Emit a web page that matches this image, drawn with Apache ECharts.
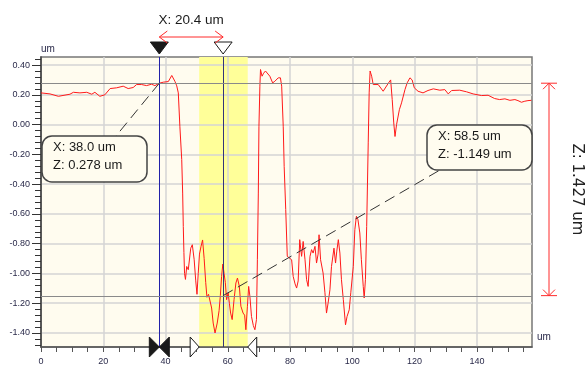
<!DOCTYPE html>
<html>
<head>
<meta charset="utf-8">
<style>
  html, body { margin: 0; padding: 0; background: #fff; }
  #chart { width: 585px; height: 370px; }
</style>
<script src="https://cdn.jsdelivr.net/npm/echarts@6/dist/echarts.min.js"></script>
</head>
<body>
<div id="chart"></div>
<script>
// profile (x in um, z in um)
const profileX = [
  0, 2.9, 5.6, 9.3, 10.4, 12.5, 14.7, 16.3, 17.3, 18.9, 20.5, 22.2, 24.3, 26.4, 28.0, 29.6,
  30.7, 32.3, 33.9, 35.5, 36.6, 38.0, 39.3, 40.9, 42.0, 43.0, 43.6, 44.1, 44.6, 45.2, 45.5,
  45.7, 45.9, 46.1, 46.4, 46.8, 47.3, 48.1, 48.6, 49.2, 49.7, 50.1, 50.5, 50.9, 51.4, 51.9,
  52.4, 52.9, 53.3, 53.8, 54.3, 54.8, 55.3, 55.9, 56.6, 57.2, 57.6, 58.0, 58.4, 58.8, 59.2,
  59.6, 60.1, 60.5, 60.9, 61.4, 62.0, 62.6, 63.1, 63.7, 64.2, 64.9, 65.4, 65.8, 66.3, 66.7,
  67.1, 67.6, 68.2, 68.7, 69.2, 69.5, 69.8, 70.0, 70.3, 70.5, 71.0, 71.5, 72.1, 72.6, 73.5,
  74.4, 75.1, 76.2, 76.9, 77.3, 77.8, 78.1, 78.6, 79.1, 79.7, 80.5, 81.0, 81.6, 82.1, 82.6,
  83.1, 83.7, 84.2, 84.8, 85.3, 85.8, 86.4, 86.9, 87.4, 88.0, 88.5, 89.0, 89.3, 89.8, 90.6,
  91.2, 91.7, 92.2, 92.8, 93.3, 94.1, 94.6, 95.0, 95.5, 96.0, 96.5, 97.1, 97.8, 98.3, 99.0,
  99.5, 100.3, 100.8, 101.3, 101.8, 102.4, 102.9, 103.5, 103.8, 104.2, 104.6, 105.1, 105.4,
  105.7, 106.2, 106.7, 108.3, 109.9, 111.5, 112.3, 112.8, 113.3, 113.7, 114.2, 115.1, 115.8,
  116.9, 117.6, 118.5, 119.2, 119.9, 121.1, 122.7, 124.3, 126.0, 128.1, 129.7, 130.8, 131.9,
  134.5, 136.7, 138.8, 141.5, 143.6, 144.1, 145.7, 147.3, 149.0, 150.6, 152.2, 153.2, 154.3,
  155.4, 156.4, 157.5
];
const profileZ = [
  0.213, 0.206, 0.19, 0.204, 0.217, 0.213, 0.217, 0.204, 0.217, 0.19, 0.2, 0.242, 0.247, 0.258, 0.242, 0.249,
  0.269, 0.269, 0.262, 0.271, 0.262, 0.278, 0.285, 0.289, 0.33, 0.291, 0.26, 0.213, -0.011, -0.235, -0.46,
  -0.684, -0.86, -1.0, -1.04, -0.953, -0.975, -0.83, -0.807, -0.908, -1.05, -1.14, -1.0, -0.87, -0.818, -0.775,
  -0.9, -1.06, -1.16, -1.14, -1.143, -1.232, -1.333, -1.4, -1.333, -1.25, -1.15, -1.02, -0.937, -1.0, -1.06,
  -1.176, -1.13, -1.2, -1.266, -1.31, -1.176, -1.064, -1.031, -1.087, -1.22, -1.266, -1.28, -1.378, -1.22, -1.087,
  -1.154, -1.289, -1.35, -1.378, -1.31, -0.908, -0.46, -0.011, 0.258, 0.37, 0.325, 0.345, 0.36, 0.37, 0.325,
  0.28, 0.291, 0.314, 0.314, 0.258, -0.011, -0.28, -0.571, -0.885, -0.885, -0.908, -1.02, -1.07, -1.098, -1.05,
  -0.773, -0.885, -0.785, -0.908, -1.042, -1.087, -0.885, -0.84, -0.863, -0.818, -0.93, -0.87, -0.74, -0.908, -0.997,
  -1.13, -1.266, -1.2, -1.11, -0.953, -0.83, -0.93, -0.85, -0.773, -0.863, -1.042, -1.176, -1.345, -1.289, -1.244,
  -1.13, -0.953, -0.706, -0.616, -0.639, -0.728, -0.908, -1.087, -1.165, -1.042, -0.684, -0.123, 0.213,
  0.36, 0.325, 0.269, 0.269, 0.224, 0.276, 0.3, 0.168, 0.011, -0.08, 0, 0.1, 0.146,
  0.235, 0.28, 0.314, 0.3, 0.247, 0.224, 0.213, 0.229, 0.24, 0.231, 0.235, 0.206, 0.229,
  0.231, 0.22, 0.206, 0.195, 0.197, 0.184, 0.175, 0.168, 0.173, 0.163, 0.168, 0.161, 0.15,
  0.157, 0.161, 0.163
];

const xMajorTicks = [0, 20, 40, 60, 80, 100, 120, 140];
const xMinorTicks = [5, 10, 15, 25, 30, 35, 45, 50, 55, 65, 70, 75, 85, 90, 95,
  105, 110, 115, 125, 130, 135, 145, 150, 155];
const yMajorTicks = [-1.4, -1.2, -1.0, -0.8, -0.6, -0.4, -0.2, 0, 0.2, 0.4];
const yMinorTicks = [];
for (let i = -37; i <= 11; i++) {
  if (i % 5 !== 0) yMinorTicks.push(+(i * 0.04).toFixed(2));
}

const cursorA = { x: 38.0, z: 0.278 };
const cursorB = { x: 58.5, z: -1.149 };
const band = [50.8, 66.4];
const xLabel = 'X: 20.4 um';
const zLabel = 'Z: 1.427 um';

const X_MIN = 0, X_MAX = 157.7, Y_MIN = -1.494, Y_MAX = 0.454;
const FONT = '"Liberation Sans", Arial, sans-serif';
const CREAM = '#fffcef';

const chart = echarts.init(document.getElementById('chart'));

const baseX = { type: 'value', min: X_MIN, max: X_MAX, position: 'bottom', z: 1.5 };
const baseY = { type: 'value', min: Y_MIN, max: Y_MAX, position: 'left', z: 1.5 };

chart.setOption({
  animation: false,
  backgroundColor: '#fff',
  grid: {
    left: 41, top: 57, right: 53, bottom: 23,
    show: true, backgroundColor: CREAM, borderColor: '#777', borderWidth: 1.5
  },
  xAxis: [
    {
      ...baseX,
      name: 'um', nameLocation: 'end', nameGap: 5,
      nameTextStyle: { fontSize: 10, color: '#2a2a4a', fontFamily: FONT, align: 'left', verticalAlign: 'bottom', padding: [0, 0, 5, 0] },
      axisLine: { onZero: false, lineStyle: { color: '#555', width: 1.5 } },
      axisTick: { customValues: xMajorTicks, length: 5, lineStyle: { color: '#555' } },
      axisLabel: { customValues: xMajorTicks, fontSize: 9, margin: 10, color: '#2a2a4a', fontFamily: FONT },
      splitLine: { show: true, lineStyle: { color: '#d4d4d4', width: 1.5 } }
    },
    {
      ...baseX,
      axisLine: { show: false, onZero: false },
      axisTick: { customValues: xMinorTicks, length: 5, lineStyle: { color: '#555' } },
      axisLabel: { show: false },
      splitLine: { show: false }
    }
  ],
  yAxis: [
    {
      ...baseY,
      name: 'um', nameLocation: 'end', nameGap: 3,
      nameTextStyle: { fontSize: 10, color: '#2a2a4a', fontFamily: FONT, align: 'left', verticalAlign: 'bottom' },
      axisLine: { show: true, onZero: false, lineStyle: { color: '#333', width: 1.5 } },
      axisTick: { customValues: yMajorTicks, length: 9, lineStyle: { color: '#333' } },
      axisLabel: {
        customValues: yMajorTicks, fontSize: 9, margin: 11, color: '#2a2a4a', fontFamily: FONT,
        formatter: v => v.toFixed(2)
      },
      splitLine: { show: true, lineStyle: { color: '#d4d4d4', width: 1.5 } }
    },
    {
      ...baseY,
      axisLine: { show: false, onZero: false },
      axisTick: { customValues: yMinorTicks, length: 6, lineStyle: { color: '#333' } },
      axisLabel: { show: false },
      splitLine: { show: false }
    }
  ],
  series: [
    {
      type: 'line',
      xAxisIndex: 0, yAxisIndex: 0,
      data: profileX.map((x, i) => [x, profileZ[i]]),
      showSymbol: false,
      lineStyle: { color: '#ff1a1a', width: 1 },
      z: 2,
      markArea: {
        silent: true,
        itemStyle: { color: '#ffff99', opacity: 1 },
        data: [[{ xAxis: band[0] }, { xAxis: band[1] }]]
      },
      markLine: {
        silent: true, symbol: ['none', 'none'], label: { show: false },
        lineStyle: { type: 'solid', width: 1 },
        data: [
          { xAxis: cursorA.x, lineStyle: { color: '#2222a8' } },
          { xAxis: cursorB.x, lineStyle: { color: '#33337a' } },
          { yAxis: cursorA.z, lineStyle: { color: '#8a8a8a' } },
          { yAxis: cursorB.z, lineStyle: { color: '#8a8a8a' } }
        ]
      }
    }
  ]
});

// overlay: cursor markers, distance arrows and callouts
const P = (x, z) => chart.convertToPixel({ seriesIndex: 0 }, [x, z]);
const [ax, ay] = P(cursorA.x, cursorA.z);
const [bx, by] = P(cursorB.x, cursorB.z);
const b0 = P(band[0], 0)[0];
const b1 = P(band[1], 0)[0];
const gTop = P(0, Y_MAX)[1];
const gBot = P(0, Y_MIN)[1];
const gRight = P(X_MAX, 0)[0];

const red = '#ff2a2a';
const ink = '#1a1a1a';
const lineEl = (pts, stroke, extra) => ({
  type: 'polyline', shape: { points: pts },
  style: Object.assign({ stroke: stroke, lineWidth: 1, fill: null }, extra || {})
});
const triEl = (pts, filled) => ({
  type: 'polygon', shape: { points: pts },
  style: { fill: filled ? ink : '#fff', stroke: ink, lineWidth: 1 }
});
const textEl = (x, y, text, size, align) => ({
  type: 'text', x: x, y: y,
  style: { text: text, font: size + 'px ' + FONT, fill: ink, align: align || 'left', verticalAlign: 'middle' }
});

const arrowY = gTop - 20;
const zX = gRight + 17;
const els = [];

// top cursor markers
els.push(triEl([[ax - 9, gTop - 15], [ax + 9, gTop - 15], [ax, gTop - 3]], true));
els.push(triEl([[bx - 9, gTop - 15], [bx + 9, gTop - 15], [bx, gTop - 3]], false));

// X distance arrow
els.push(lineEl([[ax, arrowY], [bx, arrowY]], red));
els.push(lineEl([[ax + 8, arrowY - 6], [ax, arrowY], [ax + 8, arrowY + 6]], red));
els.push(lineEl([[bx - 8, arrowY - 6], [bx, arrowY], [bx - 8, arrowY + 6]], red));
els.push(textEl((ax + bx) / 2, arrowY - 17, xLabel, 13.5, 'center'));

// bottom markers
els.push(triEl([[ax - 10, gBot - 10], [ax - 10, gBot + 10], [ax, gBot]], true));
els.push(triEl([[ax + 10, gBot - 10], [ax + 10, gBot + 10], [ax, gBot]], true));
els.push(triEl([[b0 - 9, gBot - 10], [b0 - 9, gBot + 10], [b0, gBot]], false));
els.push(triEl([[b1 + 9, gBot - 10], [b1 + 9, gBot + 10], [b1, gBot]], false));

// Z distance arrow
els.push(lineEl([[zX, ay], [zX, by]], red));
els.push(lineEl([[zX - 8, ay], [zX + 8, ay]], red));
els.push(lineEl([[zX - 8, by], [zX + 8, by]], red));
els.push(lineEl([[zX - 6, ay + 6], [zX, ay], [zX + 6, ay + 6]], red));
els.push(lineEl([[zX - 6, by - 6], [zX, by], [zX + 6, by - 6]], red));
els.push({
  type: 'text', x: gRight + 45, y: (ay + by) / 2, rotation: -Math.PI / 2,
  style: { text: zLabel, font: '15px "DejaVu Sans", sans-serif', fill: '#222', align: 'center', verticalAlign: 'middle' }
});

// callouts with dashed leaders
const boxA = { x: 42, y: 136, w: 105, h: 46 };
const boxB = { x: gRight - 105, y: 125, w: 105, h: 45 };
els.push(lineEl([[ax, ay], [boxA.x + 74, boxA.y]], '#333', { lineDash: [11, 6] }));
els.push(lineEl([[bx, by], [boxB.x + 13, boxB.y + boxB.h]], '#333', { lineDash: [11, 6] }));
[[boxA, 'X: 38.0 um', 'Z: 0.278 um'], [boxB, 'X: 58.5 um', 'Z: -1.149 um']].forEach(([b, l1, l2]) => {
  els.push({
    type: 'rect', shape: { x: b.x, y: b.y, width: b.w, height: b.h, r: 10 },
    style: { fill: CREAM, stroke: '#444', lineWidth: 1.5 }
  });
  els.push(textEl(b.x + 11, b.y + 11, l1, 13));
  els.push(textEl(b.x + 11, b.y + 29, l2, 13));
});

chart.setOption({ graphic: els.map(e => Object.assign({ silent: true, z: 10 }, e)) });
</script>
</body>
</html>
